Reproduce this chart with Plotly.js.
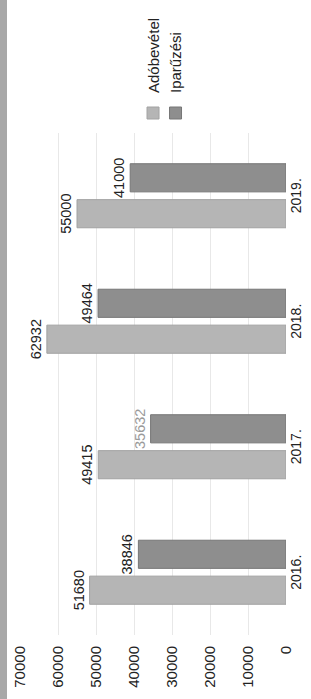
<!DOCTYPE html>
<html>
<head>
<meta charset="utf-8">
<script src="https://cdn.plot.ly/plotly-3.0.1.min.js"></script>
<style>
  html, body { margin: 0; padding: 0; width: 311px; height: 699px; overflow: hidden; background: #fff; }
  #wrap { position: absolute; left: 0; top: 0; width: 699px; height: 311px;
          transform-origin: 0 0; transform: translateY(699px) rotate(-90deg); }
  #chart { width: 699px; height: 311px; }
</style>
</head>
<body>
<div id="wrap"><div id="chart"></div></div>
<script>
const categories = ['2016.', '2017.', '2018.', '2019.'];
const adobevetel = [51680, 49415, 62932, 55000];
const iparuzesi = [38846, 35632, 49464, 41000];
const seriesNames = ['Adóbevétel', 'Iparűzési'];
const yTicks = [0, 10000, 20000, 30000, 40000, 50000, 60000, 70000];

const font = 'Arial, "Liberation Sans", sans-serif';

const traces = [
  {
    type: 'bar', name: seriesNames[0], x: categories, y: adobevetel,
    text: adobevetel.map(String), textposition: 'outside', cliponaxis: false,
    textangle: 0, constraintext: 'none',
    textfont: { family: font, size: 14.5, color: '#222' },
    marker: { color: '#b5b5b5', line: { color: '#a2a2a2', width: 1 } }
  },
  {
    type: 'bar', name: seriesNames[1], x: categories, y: iparuzesi,
    text: iparuzesi.map(String), textposition: 'outside', cliponaxis: false,
    textangle: 0, constraintext: 'none',
    textfont: { family: font, size: 14.5, color: ['#222', '#9a9a9a', '#222', '#222'] },
    marker: { color: '#8e8e8e', line: { color: '#767676', width: 1 } }
  }
];

const layout = {
  width: 699, height: 311,
  margin: { l: 64, r: 117, t: 20, b: 25 },
  paper_bgcolor: '#fff', plot_bgcolor: '#fff',
  font: { family: font, color: '#222' },
  barmode: 'group', bargap: 0.428, bargroupgap: 0.216,
  showlegend: true,
  legend: { x: 1.0, xanchor: 'left', y: 0.561, yanchor: 'top',
            font: { family: font, size: 15, color: '#222' }, bgcolor: 'rgba(0,0,0,0)' },
  xaxis: { type: 'category', showgrid: false, zeroline: false, showline: false, ticks: '',
           tickfont: { family: font, size: 14, color: '#222' } },
  yaxis: { range: [0, 70000], tickvals: yTicks, ticktext: yTicks.map(String),
           showgrid: true, gridcolor: '#e8e8e8', gridwidth: 1,
           zeroline: false, showline: false, ticks: '', ticklabelstandoff: 10,
           tickfont: { family: font, size: 15, color: '#222' } },
  shapes: [
    { type: 'rect', xref: 'paper', yref: 'paper', x0: -0.2, x1: 1.3,
      y0: 1 + 13 / 266, y1: 1 + 20 / 266, fillcolor: '#a8a8a8', line: { width: 0 }, layer: 'below' }
  ]
};

Plotly.newPlot('chart', traces, layout, { displayModeBar: false, staticPlot: true });
</script>
</body>
</html>
